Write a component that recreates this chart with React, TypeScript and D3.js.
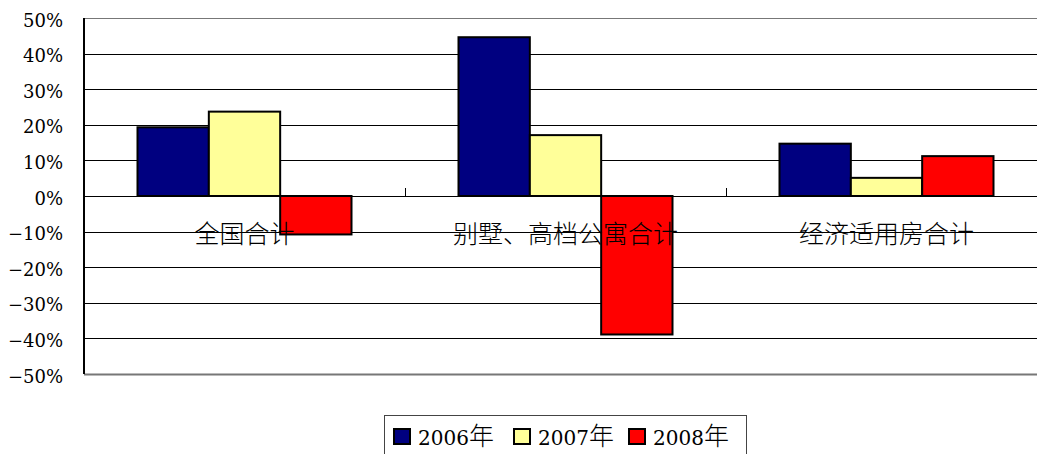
import React from "react";
import * as d3 from "d3";

// Year-on-year change by housing segment
const categories = ["全国合计", "别墅、高档公寓合计", "经济适用房合计"];
const seriesYears = ["2006", "2007", "2008"];
const yearSuffix = "年";
const seriesColors = ["#000080", "#FFFF99", "#FF0000"];
const values2006 = [0.193, 0.446, 0.147];
const values2007 = [0.237, 0.171, 0.051];
const values2008 = [-0.108, -0.389, 0.112];
const yTicks = [0.5, 0.4, 0.3, 0.2, 0.1, 0, -0.1, -0.2, -0.3, -0.4, -0.5];

const seriesValues = [values2006, values2007, values2008];

const W = 1037;
const H = 454;
const plot = { left: 84, right: 1047, top: 18, bottom: 374 };

const latinFont = "DejaVu Serif";
const cjkFont = "'Noto Sans CJK SC'";

export default function App() {
  const x = d3
    .scaleBand<string>()
    .domain(categories)
    .range([plot.left, plot.right])
    .paddingInner(0)
    .paddingOuter(0);
  const bw = x.bandwidth();
  const barW = bw / (seriesYears.length + 1.5);
  const inner = d3
    .scaleBand<string>()
    .domain(seriesYears)
    .range([(bw - barW * 3) / 2, (bw + barW * 3) / 2])
    .padding(0);
  const y = d3.scaleLinear().domain([-0.5, 0.5]).range([plot.bottom, plot.top]);
  const fmt = d3.format(".0%");
  const y0 = y(0);

  const legendX = 384;
  const legendY = 415;
  const legendItemX = [393, 513, 628];

  return (
    <svg
      width={W}
      height={H}
      style={{ position: "absolute", left: 0, top: 0, background: "#fff" }}
    >
      <rect x={0} y={0} width={W} height={H} fill="#fff" />
      {/* horizontal gridlines */}
      {yTicks.map((t) => (
        <line
          key={"g" + t}
          x1={plot.left}
          x2={plot.right}
          y1={Math.round(y(t)) + 0.5}
          y2={Math.round(y(t)) + 0.5}
          stroke={t === 0.5 || t === -0.5 ? "#777" : "#000"}
          strokeWidth={t === -0.5 ? 2 : 1}
        />
      ))}
      {/* y tick labels */}
      {yTicks.map((t) => (
        <text
          key={"l" + t}
          x={63}
          y={y(t) + 8.5}
          textAnchor="end"
          fontFamily={latinFont}
          fontSize={18}
          fill="#000"
        >
          {fmt(t)}
        </text>
      ))}
      {/* category tick marks on the zero line */}
      {categories.slice(1).map((c) => (
        <line
          key={"t" + c}
          x1={Math.round(x(c)!) + 0.5}
          x2={Math.round(x(c)!) + 0.5}
          y1={y0 - 8}
          y2={y0}
          stroke="#000"
          strokeWidth={1}
        />
      ))}
      {/* bars */}
      {categories.map((c, ci) =>
        seriesYears.map((s, si) => {
          const v = seriesValues[si][ci];
          const bx = x(c)! + inner(s)!;
          const top = y(Math.max(0, v));
          const h = Math.abs(y(v) - y0);
          return (
            <rect
              key={c + s}
              x={bx}
              y={top}
              width={barW}
              height={h}
              fill={seriesColors[si]}
              stroke="#000"
              strokeWidth={2}
            />
          );
        })
      )}
      {/* left axis */}
      <line
        x1={plot.left}
        x2={plot.left}
        y1={plot.top}
        y2={plot.bottom}
        stroke="#000"
        strokeWidth={2}
      />
      {/* category labels */}
      {categories.map((c) => (
        <text
          key={"c" + c}
          x={x(c)! + bw / 2}
          y={243}
          textAnchor="middle"
          fontFamily={cjkFont}
          fontWeight={300}
          fontSize={25}
          fill="#000"
        >
          {c}
        </text>
      ))}
      {/* legend */}
      <rect
        x={legendX + 0.5}
        y={legendY + 0.5}
        width={362}
        height={42}
        fill="#fff"
        stroke="#444"
        strokeWidth={1}
      />
      {seriesYears.map((s, i) => (
        <g key={"lg" + s}>
          <rect
            x={legendItemX[i] + 1}
            y={429}
            width={16}
            height={15}
            fill={seriesColors[i]}
            stroke="#000"
            strokeWidth={2}
          />
          <text x={legendItemX[i] + 25} y={445} fill="#000">
            <tspan fontFamily={latinFont} fontSize={20}>
              {s}
            </tspan>
            <tspan fontFamily={cjkFont} fontWeight={300} fontSize={25}>
              {yearSuffix}
            </tspan>
          </text>
        </g>
      ))}
    </svg>
  );
}
